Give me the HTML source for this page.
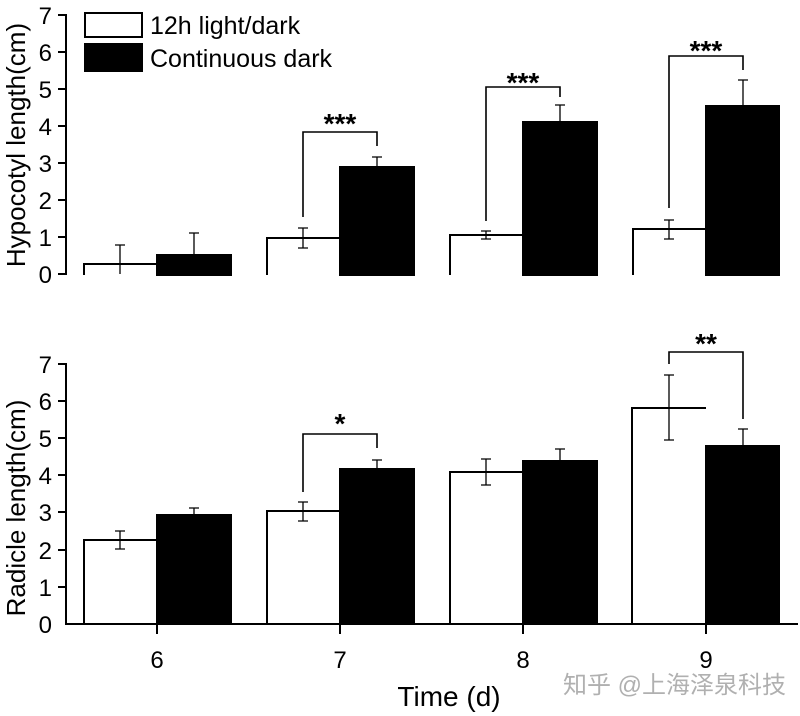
<!DOCTYPE html>
<html><head><meta charset="utf-8"><style>
html,body{margin:0;padding:0;background:#fff}
svg{display:block}
text{font-family:"Liberation Sans","Noto Sans CJK SC",sans-serif;fill:#000}
</style></head><body>
<svg width="800" height="716" viewBox="0 0 800 716" xmlns="http://www.w3.org/2000/svg">
<g stroke="#000" stroke-width="2" fill="none">
<line x1="66" y1="14" x2="66" y2="275"/>
<line x1="58" y1="15" x2="66" y2="15"/><line x1="58" y1="52" x2="66" y2="52"/><line x1="58" y1="89" x2="66" y2="89"/><line x1="58" y1="126" x2="66" y2="126"/><line x1="58" y1="163" x2="66" y2="163"/><line x1="58" y1="200" x2="66" y2="200"/><line x1="58" y1="237" x2="66" y2="237"/><line x1="58" y1="274" x2="66" y2="274"/>
<line x1="66" y1="363" x2="66" y2="625"/>
<line x1="66" y1="624" x2="798" y2="624"/>
<line x1="58" y1="364" x2="66" y2="364"/><line x1="58" y1="401" x2="66" y2="401"/><line x1="58" y1="438" x2="66" y2="438"/><line x1="58" y1="475" x2="66" y2="475"/><line x1="58" y1="512" x2="66" y2="512"/><line x1="58" y1="550" x2="66" y2="550"/><line x1="58" y1="587" x2="66" y2="587"/>
<line x1="157" y1="624" x2="157" y2="634"/><line x1="340" y1="624" x2="340" y2="634"/><line x1="523" y1="624" x2="523" y2="634"/><line x1="706" y1="624" x2="706" y2="634"/>
</g>
<g stroke="#000" stroke-width="2">
<polyline points="84,275 84,264 157,264" fill="none"/>
<rect x="157" y="255" width="74" height="20" fill="#000"/>
<polyline points="267,275 267,238 340,238" fill="none"/>
<rect x="340" y="167" width="74" height="108" fill="#000"/>
<polyline points="450,275 450,235 523,235" fill="none"/>
<rect x="523" y="122" width="74" height="153" fill="#000"/>
<polyline points="633,275 633,229 706,229" fill="none"/>
<rect x="706" y="106" width="73" height="169" fill="#000"/>
</g>
<g stroke="#000" stroke-width="1.3" fill="none">
<path d="M120 274V245M115 245H125"/>
<path d="M194 255V233M189 233H199"/>
<path d="M303 228V248M298 228H308M298 248H308"/>
<path d="M377 167V157M372 157H382"/>
<path d="M486 231V239M481 231H491M481 239H491"/>
<path d="M560 122V105M555 105H565"/>
<path d="M669 220V239M664 220H674M664 239H674"/>
<path d="M743 106V80M738 80H748"/>
</g>
<g stroke="#000" stroke-width="2">
<polyline points="84,624 84,540 157,540" fill="none"/>
<rect x="157" y="515" width="74" height="109" fill="#000"/>
<polyline points="267,624 267,511 340,511" fill="none"/>
<rect x="340" y="469" width="74" height="155" fill="#000"/>
<polyline points="450,624 450,472 523,472" fill="none"/>
<rect x="523" y="461" width="74" height="163" fill="#000"/>
<polyline points="632,624 632,408 706,408" fill="none"/>
<rect x="706" y="446" width="73" height="178" fill="#000"/>
</g>
<g stroke="#000" stroke-width="1.3" fill="none">
<path d="M120 531V549M115 531H125M115 549H125"/>
<path d="M194 515V508M189 508H199"/>
<path d="M303 502V521M298 502H308M298 521H308"/>
<path d="M377 469V460M372 460H382"/>
<path d="M486 459V485M481 459H491M481 485H491"/>
<path d="M560 461V449M555 449H565"/>
<path d="M669 375V440M664 375H674M664 440H674"/>
<path d="M743 446V429M738 429H748"/>
</g>
<g stroke="#000" stroke-width="1.6" fill="none">
<path d="M303 217V132H377V146"/>
<path d="M486 221V87H560V97"/>
<path d="M669 208V56H743V70"/>
<path d="M303 492V434H377V448"/>
<path d="M669 364V352H743V419"/>
</g>
<g font-size="28" font-weight="bold" text-anchor="middle">
<text x="340" y="133">***</text>
<text x="523" y="92">***</text>
<text x="706" y="60">***</text>
<text x="340" y="433">*</text>
<text x="706" y="353">**</text>
</g>
<rect x="85" y="13" width="57" height="24" fill="#fff" stroke="#000" stroke-width="2"/>
<rect x="84" y="43" width="59" height="29" fill="#000"/>
<text x="150" y="34" font-size="25">12h light/dark</text>
<text x="150" y="67" font-size="25">Continuous dark</text>
<g font-size="24" text-anchor="end">
<text x="52" y="24">7</text><text x="52" y="61">6</text><text x="52" y="98">5</text><text x="52" y="135">4</text><text x="52" y="172">3</text><text x="52" y="209">2</text><text x="52" y="246">1</text><text x="52" y="283">0</text>
<text x="52" y="373">7</text><text x="52" y="410">6</text><text x="52" y="447">5</text><text x="52" y="484">4</text><text x="52" y="521">3</text><text x="52" y="559">2</text><text x="52" y="596">1</text><text x="52" y="633">0</text>
</g>
<g font-size="24" text-anchor="middle">
<text x="157" y="668">6</text><text x="340" y="668">7</text><text x="523" y="668">8</text><text x="706" y="668">9</text>
</g>
<text x="449" y="706" font-size="28" text-anchor="middle">Time (d)</text>
<text transform="translate(25,145) rotate(-90)" font-size="26" text-anchor="middle">Hypocotyl length(cm)</text>
<text transform="translate(25,508) rotate(-90)" font-size="26" text-anchor="middle">Radicle length(cm)</text>
<text x="563" y="693" font-size="24" style="fill:#b0b0b0">知乎 @上海泽泉科技</text>
</svg>
</body></html>
